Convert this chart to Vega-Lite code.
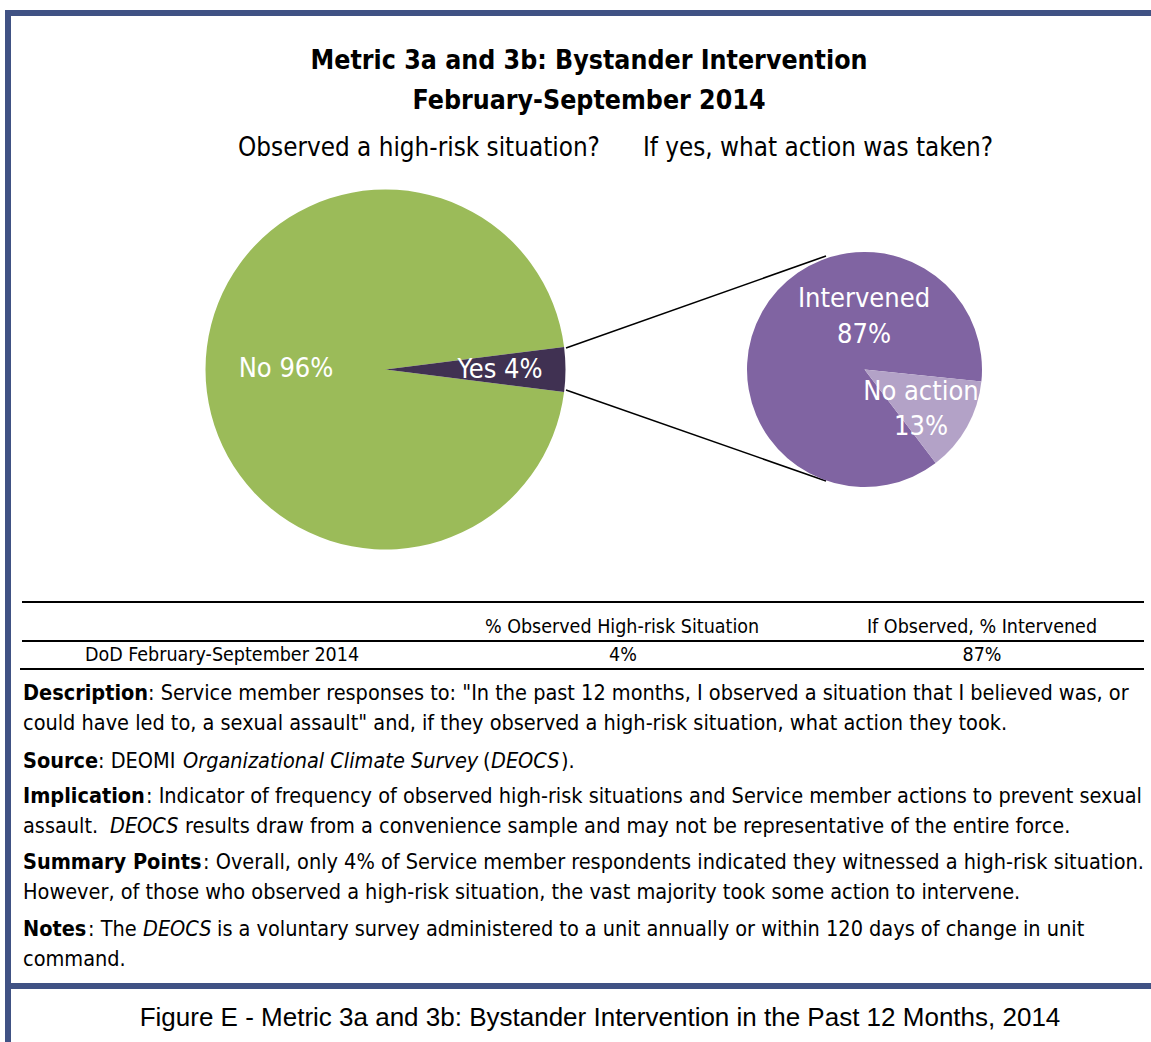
{
  "$schema": "https://vega.github.io/schema/vega-lite/v6.json",
  "width": 1151,
  "height": 1042,
  "autosize": {"type": "none"},
  "padding": 0,
  "background": "white",
  "config": {"view": {"stroke": null}},
  "datasets": {
    "pies": [
      {"chart": "Observed", "category": "No", "pct": 96},
      {"chart": "Observed", "category": "Yes", "pct": 4},
      {"chart": "Action", "category": "Intervened", "pct": 87},
      {"chart": "Action", "category": "No action", "pct": 13}
    ],
    "table": [
      {"label": "DoD  February-September 2014", "observed": "4%", "intervened": "87%"}
    ],
    "one": [{}]
  },
  "resolve": {"scale": {"theta": "independent"}},
  "layer": [
    {"data": {"name": "one"}, "mark": {"type": "rule", "stroke": "#405284", "strokeWidth": 6},
     "encoding": {"x": {"datum": 5, "type": "quantitative", "scale": {"domain": [0, 1151], "nice": false, "zero": false}, "axis": null}, "x2": {"datum": 1151}, "y": {"datum": 13, "type": "quantitative", "scale": {"domain": [0, 1042], "nice": false, "zero": false, "reverse": true}, "axis": null}}},
    {"data": {"name": "one"}, "mark": {"type": "rule", "stroke": "#405284", "strokeWidth": 6},
     "encoding": {"x": {"datum": 5, "type": "quantitative"}, "x2": {"datum": 1151}, "y": {"datum": 986, "type": "quantitative"}}},
    {"data": {"name": "one"}, "mark": {"type": "rule", "stroke": "#405284", "strokeWidth": 6},
     "encoding": {"x": {"datum": 8, "type": "quantitative"}, "y": {"datum": 10, "type": "quantitative"}, "y2": {"datum": 1042}}},
    {"data": {"name": "one"}, "mark": {"type": "rule", "stroke": "black", "strokeWidth": 1.5},
     "encoding": {"x": {"datum": 566, "type": "quantitative"}, "y": {"datum": 348, "type": "quantitative"}, "x2": {"datum": 826}, "y2": {"datum": 256}}},
    {"data": {"name": "one"}, "mark": {"type": "rule", "stroke": "black", "strokeWidth": 1.5},
     "encoding": {"x": {"datum": 566, "type": "quantitative"}, "y": {"datum": 390, "type": "quantitative"}, "x2": {"datum": 826}, "y2": {"datum": 481}}},
    {"data": {"name": "pies"}, "transform": [{"filter": "datum.chart === 'Observed'"}],
     "mark": {"type": "arc", "radius": 180},
     "encoding": {
       "theta": {"field": "pct", "type": "quantitative", "stack": true, "scale": {"range": [1.4451, 7.7283]}},
       "order": {"field": "category", "sort": "descending"},
       "color": {"field": "category", "type": "nominal", "scale": {"domain": ["No", "Yes", "Intervened", "No action"], "range": ["#9BBB59", "#403152", "#8064A2", "#B3A2C7"]}, "legend": null},
       "x": {"datum": 385.5, "type": "quantitative"}, "y": {"datum": 369.5, "type": "quantitative"}}},
    {"data": {"name": "pies"}, "transform": [{"filter": "datum.chart === 'Action'"}],
     "mark": {"type": "arc", "radius": 117.5},
     "encoding": {
       "theta": {"field": "pct", "type": "quantitative", "stack": true, "scale": {"range": [1.6738, 7.957]}},
       "order": {"field": "category", "sort": "descending"},
       "color": {"field": "category", "type": "nominal", "legend": null},
       "x": {"datum": 864.5, "type": "quantitative"}, "y": {"datum": 369.5, "type": "quantitative"}}},
    {"data": {"name": "one"}, "mark": {"type": "text", "align": "center", "baseline": "middle", "fontSize": 27, "font": "DejaVu Sans Condensed, sans-serif", "fill": "white"},
     "encoding": {"x": {"datum": 286, "type": "quantitative"}, "y": {"datum": 369, "type": "quantitative"}, "text": {"value": "No 96%"}}},
    {"data": {"name": "one"}, "mark": {"type": "text", "align": "center", "baseline": "middle", "fontSize": 27, "font": "DejaVu Sans Condensed, sans-serif", "fill": "white"},
     "encoding": {"x": {"datum": 500, "type": "quantitative"}, "y": {"datum": 370, "type": "quantitative"}, "text": {"value": "Yes 4%"}}},
    {"data": {"name": "one"}, "mark": {"type": "text", "align": "center", "baseline": "middle", "fontSize": 27, "font": "DejaVu Sans Condensed, sans-serif", "fill": "white"},
     "encoding": {"x": {"datum": 864, "type": "quantitative"}, "y": {"datum": 299, "type": "quantitative"}, "text": {"value": "Intervened"}}},
    {"data": {"name": "one"}, "mark": {"type": "text", "align": "center", "baseline": "middle", "fontSize": 27, "font": "DejaVu Sans Condensed, sans-serif", "fill": "white"},
     "encoding": {"x": {"datum": 864, "type": "quantitative"}, "y": {"datum": 335, "type": "quantitative"}, "text": {"value": "87%"}}},
    {"data": {"name": "one"}, "mark": {"type": "text", "align": "center", "baseline": "middle", "fontSize": 27, "font": "DejaVu Sans Condensed, sans-serif", "fill": "white"},
     "encoding": {"x": {"datum": 921, "type": "quantitative"}, "y": {"datum": 392, "type": "quantitative"}, "text": {"value": "No action"}}},
    {"data": {"name": "one"}, "mark": {"type": "text", "align": "center", "baseline": "middle", "fontSize": 27, "font": "DejaVu Sans Condensed, sans-serif", "fill": "white"},
     "encoding": {"x": {"datum": 921, "type": "quantitative"}, "y": {"datum": 427, "type": "quantitative"}, "text": {"value": "13%"}}},
    {"data": {"name": "one"}, "mark": {"type": "text", "align": "center", "baseline": "middle", "fontSize": 26.5, "fontWeight": "bold", "font": "DejaVu Sans Condensed, sans-serif", "fill": "black"},
     "encoding": {"x": {"datum": 589, "type": "quantitative"}, "y": {"datum": 61, "type": "quantitative"}, "text": {"value": "Metric 3a and 3b: Bystander Intervention"}}},
    {"data": {"name": "one"}, "mark": {"type": "text", "align": "center", "baseline": "middle", "fontSize": 26.5, "fontWeight": "bold", "font": "DejaVu Sans Condensed, sans-serif", "fill": "black"},
     "encoding": {"x": {"datum": 589, "type": "quantitative"}, "y": {"datum": 101, "type": "quantitative"}, "text": {"value": "February-September 2014"}}},
    {"data": {"name": "one"}, "mark": {"type": "text", "align": "center", "baseline": "middle", "fontSize": 25.8, "font": "DejaVu Sans Condensed, sans-serif", "fill": "black"},
     "encoding": {"x": {"datum": 419, "type": "quantitative"}, "y": {"datum": 148, "type": "quantitative"}, "text": {"value": "Observed a high-risk situation?"}}},
    {"data": {"name": "one"}, "mark": {"type": "text", "align": "center", "baseline": "middle", "fontSize": 25.8, "font": "DejaVu Sans Condensed, sans-serif", "fill": "black"},
     "encoding": {"x": {"datum": 818, "type": "quantitative"}, "y": {"datum": 148, "type": "quantitative"}, "text": {"value": "If yes, what action was taken?"}}},
    {"data": {"name": "one"}, "mark": {"type": "rule", "stroke": "black", "strokeWidth": 2},
     "encoding": {"x": {"datum": 22, "type": "quantitative"}, "x2": {"datum": 1144}, "y": {"datum": 602, "type": "quantitative"}}},
    {"data": {"name": "one"}, "mark": {"type": "rule", "stroke": "black", "strokeWidth": 2},
     "encoding": {"x": {"datum": 22, "type": "quantitative"}, "x2": {"datum": 1144}, "y": {"datum": 641, "type": "quantitative"}}},
    {"data": {"name": "one"}, "mark": {"type": "rule", "stroke": "black", "strokeWidth": 2},
     "encoding": {"x": {"datum": 20, "type": "quantitative"}, "x2": {"datum": 1144}, "y": {"datum": 669, "type": "quantitative"}}},
    {"data": {"name": "one"}, "mark": {"type": "text", "align": "center", "baseline": "middle", "fontSize": 19.5, "font": "DejaVu Sans Condensed, sans-serif", "fill": "black"},
     "encoding": {"x": {"datum": 622, "type": "quantitative"}, "y": {"datum": 627, "type": "quantitative"}, "text": {"value": "% Observed High-risk Situation"}}},
    {"data": {"name": "one"}, "mark": {"type": "text", "align": "center", "baseline": "middle", "fontSize": 19.5, "font": "DejaVu Sans Condensed, sans-serif", "fill": "black"},
     "encoding": {"x": {"datum": 982, "type": "quantitative"}, "y": {"datum": 627, "type": "quantitative"}, "text": {"value": "If Observed, % Intervened"}}},
    {"data": {"name": "table"}, "mark": {"type": "text", "align": "center", "baseline": "middle", "fontSize": 19.5, "font": "DejaVu Sans Condensed, sans-serif", "fill": "black"},
     "encoding": {"x": {"datum": 222, "type": "quantitative"}, "y": {"datum": 655, "type": "quantitative"}, "text": {"field": "label"}}},
    {"data": {"name": "table"}, "mark": {"type": "text", "align": "center", "baseline": "middle", "fontSize": 19.5, "font": "DejaVu Sans Condensed, sans-serif", "fill": "black"},
     "encoding": {"x": {"datum": 623, "type": "quantitative"}, "y": {"datum": 655, "type": "quantitative"}, "text": {"field": "observed"}}},
    {"data": {"name": "table"}, "mark": {"type": "text", "align": "center", "baseline": "middle", "fontSize": 19.5, "font": "DejaVu Sans Condensed, sans-serif", "fill": "black"},
     "encoding": {"x": {"datum": 982, "type": "quantitative"}, "y": {"datum": 655, "type": "quantitative"}, "text": {"field": "intervened"}}},
    {"data": {"name": "one"}, "mark": {"type": "text", "align": "left", "baseline": "middle", "fontSize": 21.5, "fontWeight": "bold", "font": "DejaVu Sans Condensed, sans-serif", "fill": "black"},
     "encoding": {"x": {"datum": 23, "type": "quantitative"}, "y": {"datum": 694, "type": "quantitative"}, "text": {"value": "Description"}}},
    {"data": {"name": "one"}, "mark": {"type": "text", "align": "left", "baseline": "middle", "fontSize": 21.5, "font": "DejaVu Sans Condensed, sans-serif", "fill": "black"},
     "encoding": {"x": {"datum": 148, "type": "quantitative"}, "y": {"datum": 694, "type": "quantitative"}, "text": {"value": ": Service member responses to: \"In the past 12 months, I observed a situation that I believed was, or"}}},
    {"data": {"name": "one"}, "mark": {"type": "text", "align": "left", "baseline": "middle", "fontSize": 21.5, "font": "DejaVu Sans Condensed, sans-serif", "fill": "black"},
     "encoding": {"x": {"datum": 23, "type": "quantitative"}, "y": {"datum": 724, "type": "quantitative"}, "text": {"value": "could have led to, a sexual assault\" and, if they observed a high-risk situation, what action they took."}}},
    {"data": {"name": "one"}, "mark": {"type": "text", "align": "left", "baseline": "middle", "fontSize": 21.5, "fontWeight": "bold", "font": "DejaVu Sans Condensed, sans-serif", "fill": "black"},
     "encoding": {"x": {"datum": 23, "type": "quantitative"}, "y": {"datum": 762, "type": "quantitative"}, "text": {"value": "Source"}}},
    {"data": {"name": "one"}, "mark": {"type": "text", "align": "left", "baseline": "middle", "fontSize": 21.5, "font": "DejaVu Sans Condensed, sans-serif", "fill": "black"},
     "encoding": {"x": {"datum": 98, "type": "quantitative"}, "y": {"datum": 762, "type": "quantitative"}, "text": {"value": ": DEOMI"}}},
    {"data": {"name": "one"}, "mark": {"type": "text", "align": "left", "baseline": "middle", "fontSize": 21.5, "fontStyle": "italic", "font": "DejaVu Sans Condensed, sans-serif", "fill": "black"},
     "encoding": {"x": {"datum": 183, "type": "quantitative"}, "y": {"datum": 762, "type": "quantitative"}, "text": {"value": "Organizational Climate Survey"}}},
    {"data": {"name": "one"}, "mark": {"type": "text", "align": "left", "baseline": "middle", "fontSize": 21.5, "font": "DejaVu Sans Condensed, sans-serif", "fill": "black"},
     "encoding": {"x": {"datum": 483, "type": "quantitative"}, "y": {"datum": 762, "type": "quantitative"}, "text": {"value": "("}}},
    {"data": {"name": "one"}, "mark": {"type": "text", "align": "left", "baseline": "middle", "fontSize": 21.5, "fontStyle": "italic", "font": "DejaVu Sans Condensed, sans-serif", "fill": "black"},
     "encoding": {"x": {"datum": 491, "type": "quantitative"}, "y": {"datum": 762, "type": "quantitative"}, "text": {"value": "DEOCS"}}},
    {"data": {"name": "one"}, "mark": {"type": "text", "align": "left", "baseline": "middle", "fontSize": 21.5, "font": "DejaVu Sans Condensed, sans-serif", "fill": "black"},
     "encoding": {"x": {"datum": 561, "type": "quantitative"}, "y": {"datum": 762, "type": "quantitative"}, "text": {"value": ")."}}},
    {"data": {"name": "one"}, "mark": {"type": "text", "align": "left", "baseline": "middle", "fontSize": 21.5, "fontWeight": "bold", "font": "DejaVu Sans Condensed, sans-serif", "fill": "black"},
     "encoding": {"x": {"datum": 23, "type": "quantitative"}, "y": {"datum": 797, "type": "quantitative"}, "text": {"value": "Implication"}}},
    {"data": {"name": "one"}, "mark": {"type": "text", "align": "left", "baseline": "middle", "fontSize": 21.5, "font": "DejaVu Sans Condensed, sans-serif", "fill": "black"},
     "encoding": {"x": {"datum": 146, "type": "quantitative"}, "y": {"datum": 797, "type": "quantitative"}, "text": {"value": ": Indicator of frequency of observed high-risk situations and Service member actions to prevent sexual"}}},
    {"data": {"name": "one"}, "mark": {"type": "text", "align": "left", "baseline": "middle", "fontSize": 21.5, "font": "DejaVu Sans Condensed, sans-serif", "fill": "black"},
     "encoding": {"x": {"datum": 23, "type": "quantitative"}, "y": {"datum": 827, "type": "quantitative"}, "text": {"value": "assault."}}},
    {"data": {"name": "one"}, "mark": {"type": "text", "align": "left", "baseline": "middle", "fontSize": 21.5, "fontStyle": "italic", "font": "DejaVu Sans Condensed, sans-serif", "fill": "black"},
     "encoding": {"x": {"datum": 110, "type": "quantitative"}, "y": {"datum": 827, "type": "quantitative"}, "text": {"value": "DEOCS"}}},
    {"data": {"name": "one"}, "mark": {"type": "text", "align": "left", "baseline": "middle", "fontSize": 21.5, "font": "DejaVu Sans Condensed, sans-serif", "fill": "black"},
     "encoding": {"x": {"datum": 185, "type": "quantitative"}, "y": {"datum": 827, "type": "quantitative"}, "text": {"value": "results draw from a convenience sample and may not be representative of the entire force."}}},
    {"data": {"name": "one"}, "mark": {"type": "text", "align": "left", "baseline": "middle", "fontSize": 21.5, "fontWeight": "bold", "font": "DejaVu Sans Condensed, sans-serif", "fill": "black"},
     "encoding": {"x": {"datum": 23, "type": "quantitative"}, "y": {"datum": 863, "type": "quantitative"}, "text": {"value": "Summary Points"}}},
    {"data": {"name": "one"}, "mark": {"type": "text", "align": "left", "baseline": "middle", "fontSize": 21.5, "font": "DejaVu Sans Condensed, sans-serif", "fill": "black"},
     "encoding": {"x": {"datum": 203, "type": "quantitative"}, "y": {"datum": 863, "type": "quantitative"}, "text": {"value": ": Overall, only 4% of Service member respondents indicated they witnessed a high-risk situation."}}},
    {"data": {"name": "one"}, "mark": {"type": "text", "align": "left", "baseline": "middle", "fontSize": 21.5, "font": "DejaVu Sans Condensed, sans-serif", "fill": "black"},
     "encoding": {"x": {"datum": 23, "type": "quantitative"}, "y": {"datum": 893, "type": "quantitative"}, "text": {"value": "However, of those who observed a high-risk situation, the vast majority took some action to intervene."}}},
    {"data": {"name": "one"}, "mark": {"type": "text", "align": "left", "baseline": "middle", "fontSize": 21.5, "fontWeight": "bold", "font": "DejaVu Sans Condensed, sans-serif", "fill": "black"},
     "encoding": {"x": {"datum": 23, "type": "quantitative"}, "y": {"datum": 930, "type": "quantitative"}, "text": {"value": "Notes"}}},
    {"data": {"name": "one"}, "mark": {"type": "text", "align": "left", "baseline": "middle", "fontSize": 21.5, "font": "DejaVu Sans Condensed, sans-serif", "fill": "black"},
     "encoding": {"x": {"datum": 88, "type": "quantitative"}, "y": {"datum": 930, "type": "quantitative"}, "text": {"value": ": The"}}},
    {"data": {"name": "one"}, "mark": {"type": "text", "align": "left", "baseline": "middle", "fontSize": 21.5, "fontStyle": "italic", "font": "DejaVu Sans Condensed, sans-serif", "fill": "black"},
     "encoding": {"x": {"datum": 143, "type": "quantitative"}, "y": {"datum": 930, "type": "quantitative"}, "text": {"value": "DEOCS"}}},
    {"data": {"name": "one"}, "mark": {"type": "text", "align": "left", "baseline": "middle", "fontSize": 21.5, "font": "DejaVu Sans Condensed, sans-serif", "fill": "black"},
     "encoding": {"x": {"datum": 217, "type": "quantitative"}, "y": {"datum": 930, "type": "quantitative"}, "text": {"value": "is a voluntary survey administered to a unit annually or within 120 days of change in unit"}}},
    {"data": {"name": "one"}, "mark": {"type": "text", "align": "left", "baseline": "middle", "fontSize": 21.5, "font": "DejaVu Sans Condensed, sans-serif", "fill": "black"},
     "encoding": {"x": {"datum": 23, "type": "quantitative"}, "y": {"datum": 960, "type": "quantitative"}, "text": {"value": "command."}}},
    {"data": {"name": "one"}, "mark": {"type": "text", "align": "center", "baseline": "middle", "fontSize": 26, "font": "Liberation Sans, Arial, sans-serif", "fill": "black"},
     "encoding": {"x": {"datum": 600, "type": "quantitative"}, "y": {"datum": 1018, "type": "quantitative"}, "text": {"value": "Figure E - Metric 3a and 3b: Bystander Intervention in the Past 12 Months, 2014"}}}
  ]
}
